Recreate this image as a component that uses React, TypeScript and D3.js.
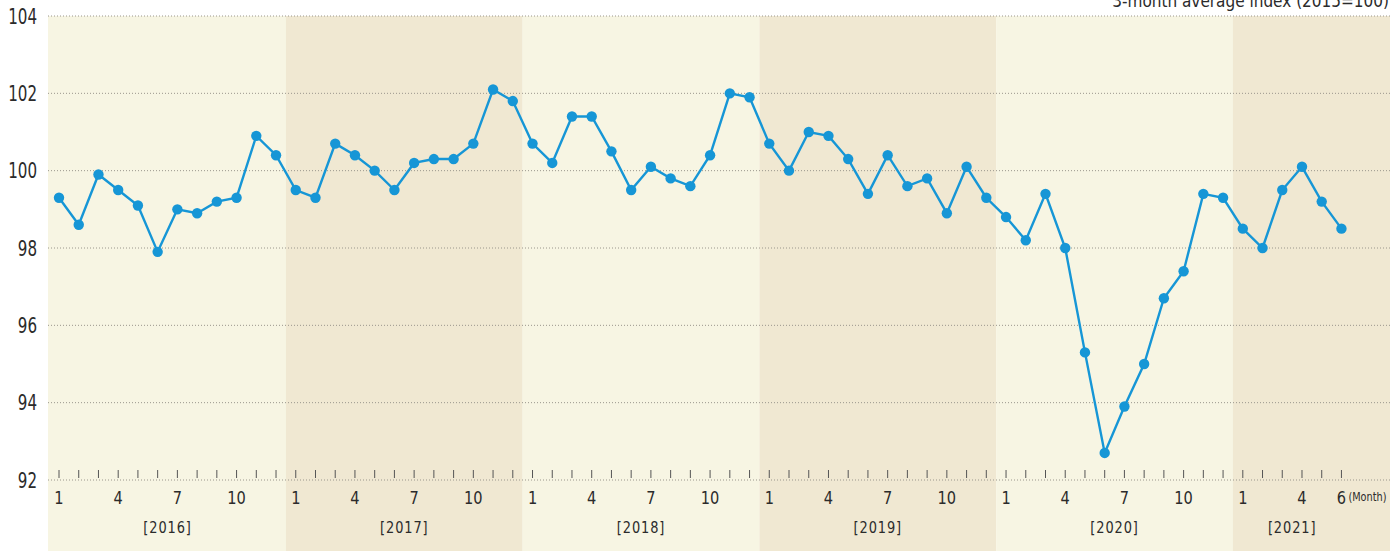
import React from "react";
import * as d3 from "d3";

const years = ["2016", "2017", "2018", "2019", "2020", "2021"];
const values2016 = [99.3, 98.6, 99.9, 99.5, 99.1, 97.9, 99.0, 98.9, 99.2, 99.3, 100.9, 100.4];
const values2017 = [99.5, 99.3, 100.7, 100.4, 100.0, 99.5, 100.2, 100.3, 100.3, 100.7, 102.1, 101.8];
const values2018 = [100.7, 100.2, 101.4, 101.4, 100.5, 99.5, 100.1, 99.8, 99.6, 100.4, 102.0, 101.9];
const values2019 = [100.7, 100.0, 101.0, 100.9, 100.3, 99.4, 100.4, 99.6, 99.8, 98.9, 100.1, 99.3];
const values2020 = [98.8, 98.2, 99.4, 98.0, 95.3, 92.7, 93.9, 95.0, 96.7, 97.4, 99.4, 99.3];
const values2021 = [98.5, 98.0, 99.5, 100.1, 99.2, 98.5];
const yTicks = [92, 94, 96, 98, 100, 102, 104];
const monthLabels = [1, 4, 7, 10];
const lastYearMonthLabels = [1, 4, 6];
const unitLabel = "3-month average index (2015=100)";

const values = [...values2016, ...values2017, ...values2018, ...values2019, ...values2020, ...values2021];

const W = 1390;
const H = 551;
const FONT = "'Liberation Sans Narrow', 'DejaVu Sans Condensed', 'Roboto', sans-serif";

export default function App() {
  const n = values.length;
  const x = d3.scaleLinear().domain([0, n - 1]).range([59, 59 + (n - 1) * 19.73]);
  const step = x(1) - x(0);
  const y = d3.scaleLinear().domain([92, 104]).range([480, 16]);
  const plotLeft = 48;
  const plotRight = W;

  const line = d3
    .line<number>()
    .x((_, i) => x(i))
    .y((d) => y(d));

  return (
    <svg
      width={W}
      height={H}
      style={{ position: "absolute", left: 0, top: 0, display: "block" }}
    >
      {years.map((yr, k) => {
        const x0 = k === 0 ? plotLeft : x(12 * k) - step / 2;
        const x1 = Math.min(plotRight, x(12 * k + 12) - step / 2);
        return (
          <rect
            key={yr}
            x={x0}
            y={y(104)}
            width={x1 - x0}
            height={H - y(104)}
            fill={k % 2 === 0 ? "#f7f5e3" : "#f0e8d2"}
          />
        );
      })}
      {yTicks.map((t) => (
        <g key={t}>
          <line
            x1={plotLeft}
            x2={plotRight}
            y1={y(t)}
            y2={y(t)}
            stroke="#9a968c"
            strokeWidth={1}
            strokeDasharray="1,2"
          />
          <text
            transform={`translate(37,${y(t)}) scale(0.8,1)`}
            textAnchor="end"
            dominantBaseline="central"
            fontFamily={FONT}
            fontSize={21}
            fill="#2b2b2b"
          >
            {t}
          </text>
        </g>
      ))}
      {values.map((_, i) => (
        <line
          key={"t" + i}
          x1={x(i)}
          x2={x(i)}
          y1={470}
          y2={478}
          stroke="#555"
          strokeWidth={1}
        />
      ))}
      {years.map((yr, k) => {
        const labels = k === years.length - 1 ? lastYearMonthLabels : monthLabels;
        const monthsInYear = k === years.length - 1 ? values2021.length : 12;
        const cx = (x(12 * k) + x(12 * k + monthsInYear - 1)) / 2;
        return (
          <g key={"l" + yr}>
            {labels.map((m) => (
              <text
                key={m}
                transform={`translate(${x(12 * k + m - 1)},498) scale(0.9,1)`}
                textAnchor="middle"
                dominantBaseline="central"
                fontFamily={FONT}
                fontSize={18}
                fill="#2b2b2b"
              >
                {m}
              </text>
            ))}
            <text
              transform={`translate(${cx},528) scale(0.9,1)`}
              textAnchor="middle"
              dominantBaseline="central"
              fontFamily={FONT}
              fontSize={16}
              letterSpacing={1}
              fill="#2b2b2b"
            >
              {"[" + yr + "]"}
            </text>
          </g>
        );
      })}
      <text
        transform={`translate(${x(n - 1) + 7},497) scale(0.9,1)`}
        dominantBaseline="central"
        fontFamily={FONT}
        fontSize={12}
        fill="#2b2b2b"
      >
        (Month)
      </text>
      <text
        x={W - 1}
        y={7}
        textAnchor="end"
        fontFamily={FONT}
        fontSize={17}
        fill="#2b2b2b"
      >
        {unitLabel}
      </text>
      <path d={line(values) || ""} fill="none" stroke="#1696d6" strokeWidth={2.4} />
      {values.map((v, i) => (
        <circle key={"c" + i} cx={x(i)} cy={y(v)} r={5.2} fill="#1696d6" />
      ))}
    </svg>
  );
}
